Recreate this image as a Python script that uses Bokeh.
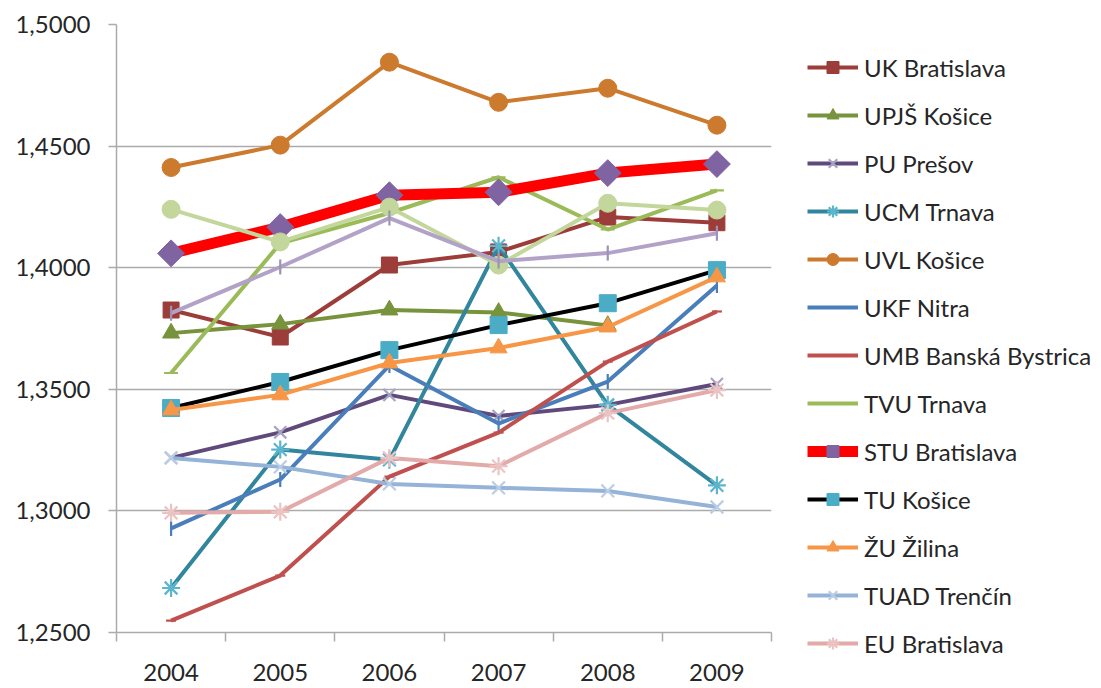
import math
from bokeh.plotting import figure
from bokeh.models import (Range1d, FixedTicker, CustomJSTickFormatter, Legend, LegendItem,
                          ColumnDataSource)
from bokeh.embed import file_html
from bokeh.resources import INLINE

nan = float("nan")

years = [2004, 2005, 2006, 2007, 2008, 2009]
y_ticks = [1.25, 1.30, 1.35, 1.40, 1.45, 1.50]

uk_bratislava = [1.3826, 1.3715, 1.4011, 1.4065, 1.4208, 1.4185]
upjs_kosice = [1.3731, 1.3768, 1.3826, 1.3816, 1.3762, nan]
pu_presov = [1.3218, 1.3323, 1.3477, 1.3390, 1.3436, 1.3522]
ucm_trnava = [1.2683, 1.3252, 1.3210, 1.4090, 1.3436, 1.3105]
uvl_kosice = [1.4412, 1.4504, 1.4845, 1.4680, 1.4738, 1.4586]
ukf_nitra = [1.2928, 1.3129, 1.3598, 1.3359, 1.3532, 1.3927]
umb_banska_bystrica = [1.2549, 1.2734, 1.3141, 1.3322, 1.3614, 1.3820]
tvu_trnava = [1.3567, 1.4100, 1.4225, 1.4372, 1.4157, 1.4318]
stu_bratislava = [1.4059, 1.4167, 1.4298, 1.4310, 1.4389, 1.4426]
tu_kosice = [1.3423, 1.3530, 1.3661, 1.3764, 1.3854, 1.3990]
zu_zilina = [1.3415, 1.3477, 1.3608, 1.3670, 1.3756, 1.3962]
tuad_trencin = [1.3218, 1.3181, 1.3111, 1.3095, 1.3082, 1.3016]
eu_bratislava = [1.2992, 1.2996, 1.3218, 1.3184, 1.3402, 1.3497]
# two series drawn in the chart but not listed in the (cut-off) legend
series_14 = [1.4240, 1.4106, 1.4249, 1.4011, 1.4265, 1.4237]
series_15 = [1.3813, 1.4003, 1.4204, 1.4027, 1.4060, 1.4142]

# (label, values, line colour, line width, marker, marker fill, marker line, size, angle, marker in legend)
series = [
    ("UK Bratislava", uk_bratislava, "#9C3D3A", 4, "square", "#9C3D3A", "#9C3D3A", 16, 0, True),
    ("UPJŠ Košice", upjs_kosice, "#77933C", 4, "triangle", "#77933C", "#77933C", 17, 0, True),
    ("PU Prešov", pu_presov, "#604A7B", 4, "x", None, "#A7A3C2", 17, 0, True),
    ("UCM Trnava", ucm_trnava, "#31859C", 4, "asterisk", None, "#5BB5CC", 18, 0, True),
    ("UVL Košice", uvl_kosice, "#CC7A2E", 4, "circle", "#CC7A2E", "#CC7A2E", 18, 0, True),
    ("UKF Nitra", ukf_nitra, "#4A7EBB", 4, "dash", None, "#4A7EBB", 15, math.pi / 2, True),
    ("UMB Banská Bystrica", umb_banska_bystrica, "#C0504D", 4, "dash", None, "#C0504D", 10, 0, False),
    ("TVU Trnava", tvu_trnava, "#9BBB59", 4, "dash", None, "#9BBB59", 14, 0, False),
    ("STU Bratislava", stu_bratislava, "#FF0000", 11, "square", "#8064A2", "#8064A2", 19, math.pi / 4, True),
    ("TU Košice", tu_kosice, "#000000", 4, "square", "#4BACC6", "#4BACC6", 17, 0, True),
    ("ŽU Žilina", zu_zilina, "#F79646", 4, "triangle", "#F79646", "#F79646", 17, 0, True),
    ("TUAD Trenčín", tuad_trencin, "#95B3D7", 4, "x", None, "#B9CDE5", 18, 0, True),
    ("EU Bratislava", eu_bratislava, "#E2AAA9", 4, "asterisk", None, "#EBC3C2", 18, 0, True),
    (None, series_14, "#C3D69B", 4, "circle", "#C3D69B", "#C3D69B", 18, 0, True),
    (None, series_15, "#B3A2C7", 4, "dash", None, "#9D93B5", 15, math.pi / 2, True),
]

FONT = "Lato"
GRID = "#ABABAB"
TEXT = "#262626"

p = figure(frame_width=655, frame_height=608, output_backend="svg", toolbar_location=None,
           x_range=Range1d(2003.5, 2009.5), y_range=Range1d(1.25, 1.5),
           min_border_left=116, min_border_right=0, min_border_top=24, min_border_bottom=54)
p.outline_line_color = None
p.background_fill_color = "white"
p.border_fill_color = "white"

# x axis
p.xaxis.ticker = FixedTicker(ticks=years, minor_ticks=[y - 0.5 for y in years] + [years[-1] + 0.5])
p.xaxis.major_tick_line_color = None
p.xaxis.major_tick_out = 0
p.xaxis.major_tick_in = 0
p.xaxis.minor_tick_out = 9
p.xaxis.minor_tick_in = 0
p.xaxis.minor_tick_line_color = GRID
p.xaxis.minor_tick_line_width = 1.5
p.xaxis.axis_line_color = GRID
p.xaxis.axis_line_width = 1.5
p.xaxis.major_label_standoff = 22
p.xaxis.major_label_text_font = FONT
p.xaxis.major_label_text_font_size = "24px"
p.xaxis.major_label_text_color = TEXT

# y axis
p.yaxis.ticker = FixedTicker(ticks=y_ticks, minor_ticks=[])
p.yaxis.formatter = CustomJSTickFormatter(code="return tick.toFixed(4).replace('.', ',');")
p.yaxis.major_tick_out = 8
p.yaxis.major_tick_in = 0
p.yaxis.major_tick_line_color = GRID
p.yaxis.major_tick_line_width = 1.5
p.yaxis.axis_line_color = GRID
p.yaxis.axis_line_width = 1.5
p.yaxis.major_label_standoff = 18
p.yaxis.major_label_text_font = FONT
p.yaxis.major_label_text_font_size = "24px"
p.yaxis.major_label_text_color = TEXT

p.xgrid.grid_line_color = None
p.ygrid.ticker = FixedTicker(ticks=y_ticks)
p.ygrid.grid_line_color = GRID
p.ygrid.grid_line_width = 1.5

items = []
for label, vals, lc, lw, mk, mfill, mline, size, ang, marker_in_legend in series:
    src = ColumnDataSource(dict(x=years, y=vals))
    lr = p.line("x", "y", source=src, line_color=lc, line_width=lw)
    sr = p.scatter("x", "y", source=src, marker=mk, size=size, angle=ang,
                   fill_color=mfill, line_color=mline, line_width=2.2 if mfill is None else 1)
    if label is not None:
        rends = [lr, sr] if marker_in_legend else [lr]
        items.append(LegendItem(label=label, renderers=rends))

legend = Legend(items=items, location=(36, -26), orientation="vertical",
                glyph_width=51, glyph_height=30, label_height=30, spacing=18,
                label_standoff=6, padding=0, margin=0,
                border_line_color=None, background_fill_alpha=0,
                label_text_font=FONT, label_text_font_size="24px", label_text_color=TEXT)
p.add_layout(legend, "right")

open("out.html", "w").write(file_html(p, INLINE))
